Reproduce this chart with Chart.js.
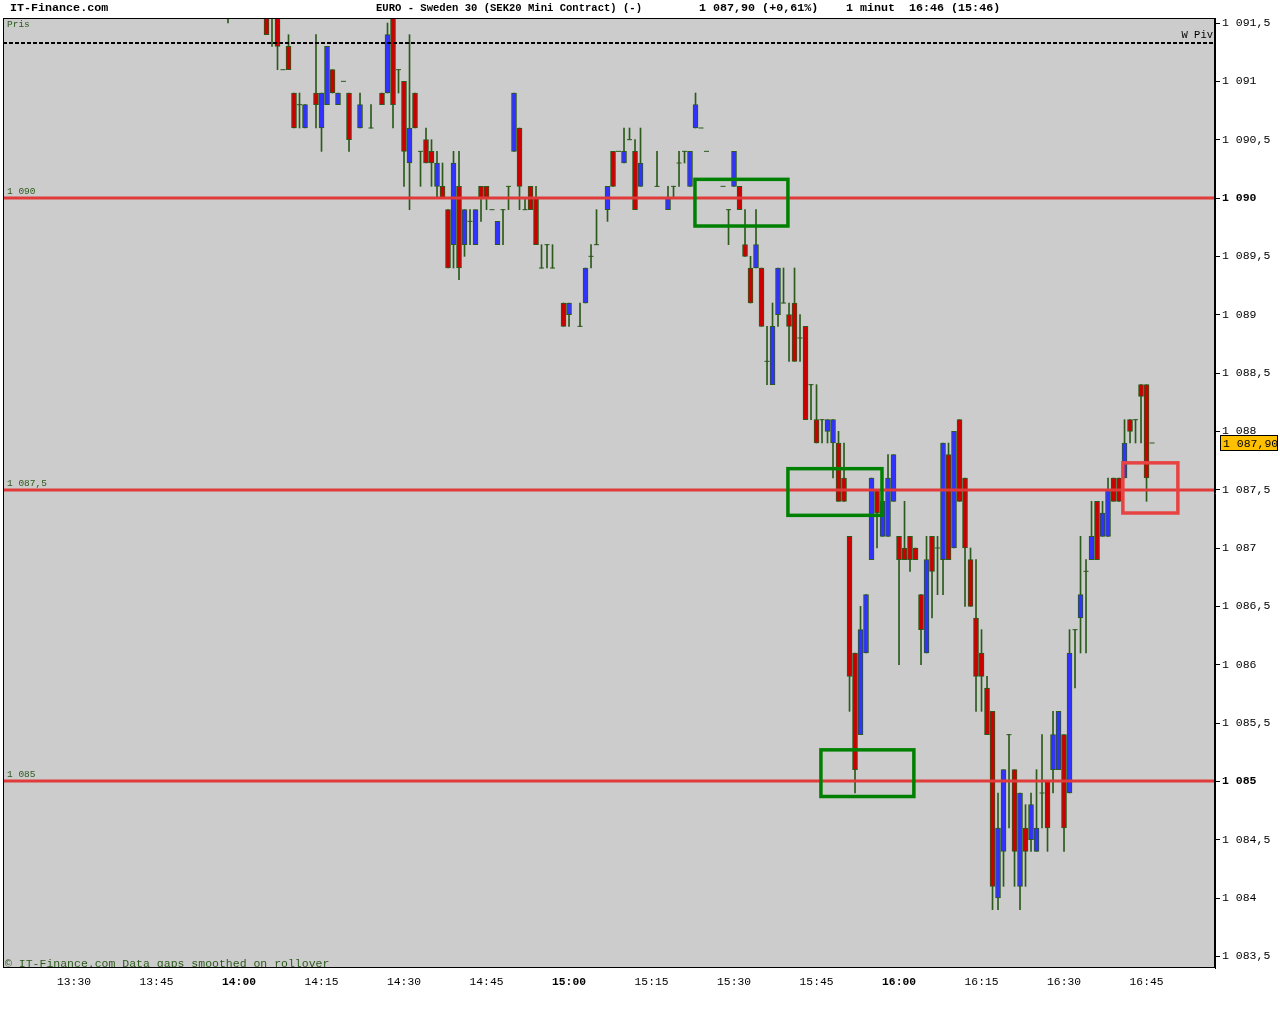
<!DOCTYPE html>
<html>
<head>
<meta charset="utf-8">
<title>EURO - Sweden 30</title>
<script src="https://cdn.jsdelivr.net/npm/chart.js@4.4.1/dist/chart.umd.min.js"></script>
<style>
  html, body { margin: 0; padding: 0; background: #fff; }
  canvas { display: block; }
</style>
</head>
<body>
<canvas id="chart" width="1280" height="1024"></canvas>
<script>
// 1-minute candles
const candleTimes = [
  '13:58','14:05','14:06','14:07','14:08','14:09','14:10','14:11','14:12','14:14','14:15','14:16','14:17','14:18','14:19','14:20',
  '14:22','14:24','14:26','14:27','14:28','14:29','14:30','14:31','14:32','14:33','14:34','14:35','14:36','14:37','14:38','14:39',
  '14:40','14:41','14:42','14:43','14:44','14:45','14:46','14:47','14:48','14:49','14:50','14:51','14:52','14:53','14:54','14:55',
  '14:56','14:57','14:59','15:00','15:02','15:03','15:04','15:05','15:07','15:08','15:09','15:10','15:11','15:12','15:13','15:16',
  '15:18','15:19','15:20','15:21','15:22','15:23','15:24','15:25','15:28','15:29','15:30','15:31','15:32','15:33','15:34','15:35',
  '15:36','15:37','15:38','15:39','15:40','15:41','15:42','15:43','15:44','15:45','15:46','15:47','15:48','15:49','15:50','15:51',
  '15:52','15:53','15:54','15:55','15:56','15:57','15:58','15:59','16:00','16:01','16:02','16:03','16:04','16:05','16:06','16:07',
  '16:08','16:09','16:10','16:11','16:12','16:13','16:14','16:15','16:16','16:17','16:18','16:19','16:20','16:21','16:22','16:23',
  '16:24','16:25','16:26','16:27','16:28','16:29','16:30','16:31','16:32','16:33','16:34','16:35','16:36','16:37','16:38','16:39',
  '16:40','16:41','16:42','16:43','16:44','16:45','16:46'
];
const openPrices = [
  1091.7,1091.8,1091.7,1091.7,1091.1,1091.3,1090.9,1090.8,1090.6,1090.9,1090.6,1090.8,1091.1,1090.8,1091.0,1090.9,
  1090.6,1090.6,1090.9,1090.9,1091.7,1091.1,1091.0,1090.3,1090.9,1090.4,1090.5,1090.4,1090.1,1090.1,1089.9,1089.6,
  1090.1,1089.6,1089.8,1089.6,1090.1,1090.1,1089.9,1089.6,1089.9,1090.1,1090.4,1090.6,1089.9,1090.1,1090.0,1089.4,
  1089.6,1089.4,1089.1,1089.0,1088.9,1089.1,1089.5,1089.6,1089.9,1090.4,1090.4,1090.3,1090.5,1090.4,1090.1,1090.1,
  1089.9,1090.1,1090.3,1090.4,1090.1,1090.6,1090.6,1090.4,1090.1,1089.9,1090.1,1090.1,1089.6,1089.4,1089.4,1089.4,
  1088.6,1088.4,1089.0,1089.1,1089.0,1089.1,1088.8,1088.9,1088.4,1088.1,1088.1,1088.0,1087.9,1087.9,1087.6,1087.1,
  1086.1,1085.4,1086.1,1086.9,1087.5,1087.1,1087.1,1087.4,1087.1,1087.0,1087.1,1087.0,1086.6,1086.1,1087.1,1087.0,
  1086.9,1087.8,1087.0,1088.1,1087.6,1086.9,1086.4,1086.1,1085.8,1085.6,1084.0,1084.4,1085.4,1085.1,1084.1,1084.6,
  1084.5,1084.4,1084.9,1085.0,1085.1,1085.1,1085.4,1084.9,1086.3,1086.4,1086.8,1086.9,1087.4,1087.1,1087.1,1087.6,
  1087.6,1087.6,1088.1,1088.1,1088.4,1088.4,1087.9
];
const highPrices = [
  1091.9,1091.8,1091.8,1091.7,1091.1,1091.4,1090.9,1090.9,1090.8,1091.4,1090.9,1091.3,1091.1,1090.9,1091.0,1090.9,
  1090.9,1090.8,1090.9,1091.5,1091.7,1091.1,1091.0,1091.4,1090.9,1090.4,1090.6,1090.5,1090.4,1090.3,1089.9,1090.4,
  1090.4,1089.9,1089.9,1089.9,1090.1,1090.1,1089.9,1089.8,1089.9,1090.1,1090.9,1090.6,1090.0,1090.1,1090.1,1089.6,
  1089.6,1089.6,1089.1,1089.1,1089.1,1089.4,1089.6,1089.9,1090.1,1090.4,1090.4,1090.6,1090.6,1090.5,1090.6,1090.4,
  1090.1,1090.1,1090.4,1090.4,1090.4,1090.9,1090.6,1090.4,1090.1,1089.9,1090.4,1090.1,1089.9,1089.5,1089.9,1089.4,
  1088.9,1089.1,1089.4,1089.4,1089.1,1089.4,1089.0,1088.9,1088.4,1088.4,1088.1,1088.1,1088.1,1088.0,1087.9,1087.1,
  1086.1,1086.5,1086.6,1087.6,1087.5,1087.4,1087.8,1087.8,1087.1,1087.4,1087.1,1087.0,1086.6,1087.1,1087.1,1087.1,
  1087.9,1087.9,1088.0,1088.1,1087.6,1087.0,1086.9,1086.3,1085.9,1085.6,1084.9,1085.1,1085.4,1085.1,1084.9,1084.8,
  1084.9,1085.1,1085.4,1085.0,1085.6,1085.6,1085.4,1086.3,1086.3,1087.1,1086.9,1087.4,1087.4,1087.4,1087.6,1087.6,
  1087.6,1088.1,1088.1,1088.1,1088.4,1088.4,1087.9
];
const lowPrices = [
  1091.5,1091.4,1091.3,1091.1,1091.1,1091.1,1090.6,1090.6,1090.6,1090.6,1090.4,1090.8,1090.9,1090.8,1091.0,1090.4,
  1090.6,1090.6,1090.8,1090.9,1090.6,1090.9,1090.1,1089.9,1090.6,1090.1,1090.3,1090.1,1090.0,1090.0,1089.4,1089.4,
  1089.3,1089.5,1089.6,1089.6,1089.8,1089.9,1089.9,1089.6,1089.6,1089.9,1090.4,1089.9,1089.9,1089.9,1089.6,1089.4,
  1089.4,1089.4,1088.9,1088.9,1088.9,1089.1,1089.4,1089.6,1089.8,1090.1,1090.4,1090.3,1090.5,1089.9,1090.1,1090.1,
  1089.9,1090.0,1090.1,1090.3,1090.1,1090.6,1090.6,1090.4,1090.1,1089.6,1090.1,1089.9,1089.5,1089.1,1089.4,1088.9,
  1088.4,1088.4,1088.9,1089.1,1088.6,1088.6,1088.6,1088.1,1088.1,1087.9,1087.9,1087.9,1087.6,1087.4,1087.4,1085.6,
  1084.9,1085.4,1086.1,1086.9,1087.0,1087.1,1087.1,1087.4,1086.0,1086.9,1086.8,1086.9,1086.0,1086.1,1086.4,1086.6,
  1086.6,1086.9,1087.0,1087.4,1086.5,1086.5,1085.6,1085.6,1085.4,1083.9,1083.9,1084.1,1084.6,1084.1,1083.9,1084.1,
  1084.4,1084.4,1084.6,1084.4,1084.9,1085.1,1084.4,1084.9,1085.8,1086.1,1086.1,1086.9,1086.9,1087.1,1087.1,1087.4,
  1087.4,1087.6,1087.9,1087.9,1087.9,1087.4,1087.9
];
const closePrices = [
  1091.8,1091.4,1091.7,1091.3,1091.1,1091.1,1090.6,1090.8,1090.8,1090.8,1090.9,1091.3,1090.9,1090.9,1091.0,1090.5,
  1090.8,1090.6,1090.8,1091.4,1090.8,1091.1,1090.4,1090.6,1090.6,1090.4,1090.3,1090.3,1090.3,1090.0,1089.4,1090.3,
  1089.4,1089.9,1089.8,1089.9,1090.0,1090.0,1089.9,1089.8,1089.9,1090.1,1090.9,1090.1,1089.9,1089.9,1089.6,1089.4,
  1089.6,1089.4,1088.9,1089.1,1088.9,1089.4,1089.5,1089.6,1090.1,1090.1,1090.4,1090.4,1090.5,1089.9,1090.3,1090.1,
  1090.0,1090.1,1090.3,1090.4,1090.4,1090.8,1090.6,1090.4,1090.1,1089.9,1090.4,1089.9,1089.5,1089.1,1089.6,1088.9,
  1088.6,1088.9,1089.4,1089.1,1088.9,1088.6,1088.8,1088.1,1088.4,1087.9,1088.1,1088.1,1088.1,1087.4,1087.4,1085.9,
  1085.1,1086.3,1086.6,1087.6,1087.3,1087.4,1087.6,1087.8,1086.9,1086.9,1086.9,1086.9,1086.3,1086.9,1086.8,1087.0,
  1087.9,1086.9,1088.0,1087.4,1087.0,1086.5,1085.9,1085.9,1085.4,1084.1,1084.6,1085.1,1085.4,1084.4,1084.9,1084.4,
  1084.8,1084.6,1084.9,1084.6,1085.4,1085.6,1084.6,1086.1,1086.3,1086.6,1086.8,1087.1,1086.9,1087.3,1087.5,1087.4,
  1087.4,1087.9,1088.0,1088.1,1088.3,1087.6,1087.9
];

const xTickLabels = ['13:30','13:45','14:00','14:15','14:30','14:45','15:00','15:15','15:30','15:45','16:00','16:15','16:30','16:45'];
const yTickValues = [1083.5,1084,1084.5,1085,1085.5,1086,1086.5,1087,1087.5,1088,1088.5,1089,1089.5,1090,1090.5,1091,1091.5];

// horizontal levels and the weekly pivot
const levelValues = [1090, 1087.5, 1085];
const pivotValue = 1091.33;
const lastPrice = 1087.90;

// marked zones (time from/to, price top/bottom)
const zoneFrom = ['15:22.9', '15:39.8', '15:45.8', '16:40.7'];
const zoneTo = ['15:39.8', '15:56.9', '16:02.7', '16:50.7'];
const zoneTop = [1090.16, 1087.68, 1085.27, 1087.73];
const zoneBottom = [1089.76, 1087.28, 1084.87, 1087.30];
const zoneKind = ['green', 'green', 'green', 'red'];

const WICK = '#2b5a1b';
const UP = '#3232ff';
const DOWN = '#cc0000';
const MONO = '"Liberation Mono", "DejaVu Sans Mono", monospace';

// minutes counted from 13:30
function toMin(t) {
  const [h, m] = t.split(':');
  return parseInt(h) * 60 + parseFloat(m) - (13 * 60 + 30);
}
function minToLabel(v) {
  const total = Math.round(v) + 13 * 60 + 30;
  return Math.floor(total / 60) + ':' + String(total % 60).padStart(2, '0');
}
function fmtPrice(v, decimals) {
  const s = v.toFixed(decimals).split('.');
  const int = s[0].slice(0, -3) + ' ' + s[0].slice(-3);
  return s[1] ? int + ',' + s[1] : int;
}

const bodies = [], bodyColors = [], wicks = [], dojis = [];
candleTimes.forEach((t, i) => {
  const x = toMin(t);
  const o = openPrices[i], c = closePrices[i];
  if (highPrices[i] > lowPrices[i]) wicks.push({ x: x, y: [lowPrices[i], highPrices[i]] });
  if (o === c) {
    dojis.push({ x: x, y: o });
  } else {
    bodies.push({ x: x, y: [o, c] });
    bodyColors.push(c > o ? UP : DOWN);
  }
});

const overlay = {
  id: 'overlay',
  beforeDraw(chart) {
    const { ctx, chartArea: a } = chart;
    ctx.save();
    ctx.fillStyle = '#ffffff';
    ctx.fillRect(0, 0, chart.width, chart.height);
    ctx.fillStyle = '#cccccc';
    ctx.fillRect(a.left, a.top, a.right - a.left, a.bottom - a.top);
    ctx.restore();
  },
  afterDatasetsDraw(chart) {
    const { ctx, chartArea: a, scales: { x, y } } = chart;
    ctx.save();
    ctx.beginPath();
    ctx.rect(a.left, a.top, a.right - a.left, a.bottom - a.top);
    ctx.clip();

    // price levels
    levelValues.forEach(v => {
      const py = Math.round(y.getPixelForValue(v));
      ctx.strokeStyle = '#e03a3a';
      ctx.lineWidth = 3;
      ctx.beginPath();
      ctx.moveTo(a.left, py);
      ctx.lineTo(a.right, py);
      ctx.stroke();
      ctx.fillStyle = WICK;
      ctx.font = '9.5px ' + MONO;
      ctx.textBaseline = 'middle';
      ctx.textAlign = 'left';
      ctx.fillText(fmtPrice(v, Number.isInteger(v) ? 0 : 1), a.left + 4, py - 7);
    });

    // weekly pivot
    const pv = Math.round(y.getPixelForValue(pivotValue));
    ctx.strokeStyle = '#000';
    ctx.lineWidth = 2;
    ctx.setLineDash([4, 2]);
    ctx.beginPath();
    ctx.moveTo(a.left, pv);
    ctx.lineTo(a.right, pv);
    ctx.stroke();
    ctx.setLineDash([]);
    ctx.fillStyle = '#000';
    ctx.font = '10.5px ' + MONO;
    ctx.textAlign = 'right';
    ctx.textBaseline = 'middle';
    ctx.fillText('W Piv', a.right - 2, pv - 8);

    // marked zones
    zoneFrom.forEach((f, i) => {
      const x0 = x.getPixelForValue(toMin(f)), x1 = x.getPixelForValue(toMin(zoneTo[i]));
      const y0 = y.getPixelForValue(zoneTop[i]), y1 = y.getPixelForValue(zoneBottom[i]);
      ctx.strokeStyle = zoneKind[i] === 'red' ? '#e84343' : '#008000';
      ctx.lineWidth = 3.5;
      ctx.strokeRect(x0, y0, x1 - x0, y1 - y0);
    });

    ctx.fillStyle = WICK;
    ctx.font = '9.5px ' + MONO;
    ctx.textAlign = 'left';
    ctx.fillText('Pris', a.left + 4, a.top + 6);
    ctx.font = '11.5px ' + MONO;
    ctx.fillText('\u00a9 IT-Finance.com Data gaps smoothed on rollover', a.left + 2, a.bottom - 4);
    ctx.restore();
  },
  afterDraw(chart) {
    const { ctx, chartArea: a, scales: { y } } = chart;
    ctx.save();
    ctx.strokeStyle = '#000';
    ctx.lineWidth = 1;
    ctx.strokeRect(a.left + 0.5, a.top + 0.5, a.right - a.left - 1, a.bottom - a.top - 1);

    // header
    ctx.fillStyle = '#000';
    ctx.textBaseline = 'middle';
    ctx.textAlign = 'left';
    ctx.font = 'bold 11.7px ' + MONO;
    ctx.fillText('IT-Finance.com', 10, 8);
    ctx.fillText('EURO - Sweden 30 (SEK20 Mini Contract) (-)', 376, 8, 266);
    ctx.fillText('1 087,90 (+0,61%)', 699, 8);
    ctx.fillText('1 minut', 846, 8);
    ctx.fillText('16:46 (15:46)', 909, 8);

    // last price tag
    const py = Math.round(y.getPixelForValue(lastPrice));
    ctx.fillStyle = '#ffc000';
    ctx.fillRect(a.right + 5.5, py - 7.5, 57, 15);
    ctx.strokeRect(a.right + 5.5, py - 7.5, 57, 15);
    ctx.fillStyle = '#000';
    ctx.font = '11.5px ' + MONO;
    ctx.fillText(fmtPrice(lastPrice, 2), a.right + 8, py + 0.5);
    ctx.restore();
  }
};

new Chart(document.getElementById('chart'), {
  type: 'bar',
  data: {
    datasets: [
      {
        label: 'Kropp',
        data: bodies,
        backgroundColor: bodyColors,
        borderColor: WICK,
        borderWidth: 1,
        borderSkipped: false,
        barThickness: 5,
        grouped: false,
        order: 1
      },
      {
        type: 'scatter',
        label: 'Doji',
        data: dojis,
        pointStyle: 'line',
        radius: 2.5,
        borderColor: WICK,
        borderWidth: 1,
        order: 2
      },
      {
        label: 'Veke',
        data: wicks,
        backgroundColor: WICK,
        borderWidth: 0,
        barThickness: 1,
        grouped: false,
        order: 3
      }
    ]
  },
  options: {
    responsive: false,
    devicePixelRatio: 1,
    animation: false,
    layout: { autoPadding: false, padding: { left: 3, top: 18, right: 0, bottom: 0 } },
    plugins: { legend: { display: false }, tooltip: { enabled: false } },
    scales: {
      x: {
        type: 'linear',
        min: -12.91,
        max: 207.45,
        offset: false,
        grid: { display: false, drawTicks: false, tickLength: 0 },
        border: { display: false },
        afterBuildTicks: s => { s.ticks = xTickLabels.map(l => ({ value: toMin(l) })); },
        afterFit: s => { s.height = 56; s.paddingLeft = 0; s.paddingRight = 0; },
        ticks: {
          autoSkip: false,
          maxRotation: 0,
          padding: 7,
          color: '#000',
          font: c => ({ family: MONO, size: 11.3, weight: c.tick && Math.round(c.tick.value) % 60 === 30 ? 'bold' : 'normal' }),
          callback: v => minToLabel(v)
        }
      },
      y: {
        type: 'linear',
        position: 'right',
        min: 1083.40,
        max: 1091.543,
        grid: { drawOnChartArea: false, drawTicks: true, tickLength: 5, color: '#000' },
        border: { display: true, color: '#000' },
        afterBuildTicks: s => { s.ticks = yTickValues.map(v => ({ value: v })); },
        afterFit: s => { s.width = 65; s.paddingTop = 0; s.paddingBottom = 0; },
        ticks: {
          padding: 2,
          color: '#000',
          font: c => ({ family: MONO, size: 11.5, weight: c.tick && c.tick.value % 5 === 0 ? 'bold' : 'normal' }),
          callback: v => fmtPrice(v, Number.isInteger(v) ? 0 : 1)
        }
      }
    }
  },
  plugins: [overlay]
});
</script>
</body>
</html>
